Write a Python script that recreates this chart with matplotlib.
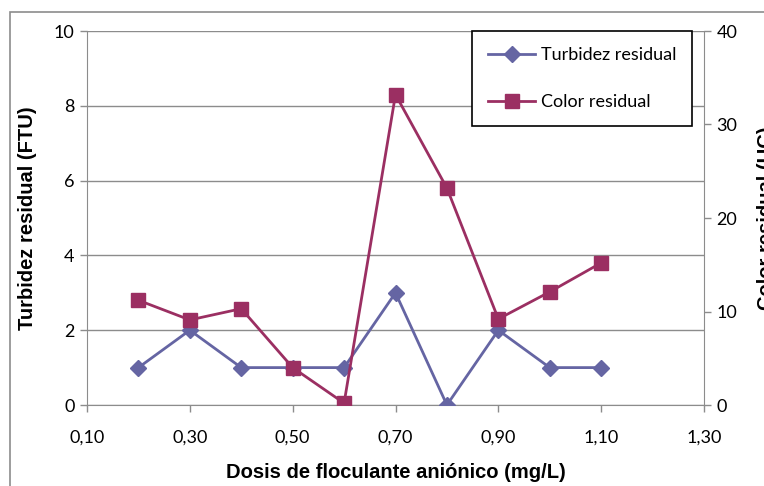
#!/usr/bin/env python3
# Turbidez y color residual frente a la dosis de floculante anionico

import matplotlib
matplotlib.use("Agg")
import matplotlib.pyplot as plt
from matplotlib.patches import Rectangle
from matplotlib.ticker import FixedLocator, FuncFormatter

dosis = [0.2, 0.3, 0.4, 0.5, 0.6, 0.7, 0.8, 0.9, 1.0, 1.1]
turbidez = [1, 2, 1, 1, 1, 3, 0, 2, 1, 1]
color_res = [11.2, 9.1, 10.3, 4.0, 0.2, 33.2, 23.2, 9.2, 12.1, 15.2]

x_ticks = [0.10, 0.30, 0.50, 0.70, 0.90, 1.10, 1.30]
y_ticks = [0, 2, 4, 6, 8, 10]
y2_ticks = [0, 10, 20, 30, 40]

c_turb = "#6565a3"
c_color = "#9b2f62"
grey = "#8c8c8c"
tick_font = "Lato"
label_font = "Liberation Sans"

fig = plt.figure(figsize=(7.64, 4.86), dpi=100)
fig.patches.append(Rectangle((10 / 764, -0.1), 2, 1.1 - 12 / 486,
                             transform=fig.transFigure, fill=False,
                             edgecolor=grey, linewidth=1.2))

ax = fig.add_axes([87 / 764, 81 / 486, 617 / 764, 374 / 486])
ax2 = ax.twinx()

ax.plot(dosis, turbidez, color=c_turb, linewidth=2, marker="D",
        markersize=8, label="Turbidez residual", zorder=3)
ax2.plot(dosis, color_res, color=c_color, linewidth=2, marker="s",
         markersize=9.5, label="Color residual", zorder=3)

ax.set_xlim(0.10, 1.30)
ax.set_ylim(0, 10)
ax2.set_ylim(0, 40)
ax.xaxis.set_major_locator(FixedLocator(x_ticks))
ax.xaxis.set_major_formatter(FuncFormatter(lambda v, p: f"{v:.2f}".replace(".", ",")))
ax.yaxis.set_major_locator(FixedLocator(y_ticks))
ax2.yaxis.set_major_locator(FixedLocator(y2_ticks))

ax.grid(axis="y", color=grey, linewidth=1)
ax.set_axisbelow(True)
for a in (ax, ax2):
    a.spines["top"].set_visible(False)
    for s in ("left", "bottom", "right"):
        a.spines[s].set_color(grey)
    a.tick_params(colors=grey, length=5, width=1, labelsize=13,
                  labelcolor="black", pad=4)
ax2.spines["left"].set_visible(False)
ax2.spines["bottom"].set_visible(False)
ax.spines["right"].set_visible(False)
for lab in ax.get_xticklabels() + ax.get_yticklabels() + ax2.get_yticklabels():
    lab.set_fontfamily(tick_font)
ax.tick_params(axis="x", pad=13)

ax.set_xlabel("Dosis de floculante aniónico (mg/L)", fontsize=14.5,
              fontweight="bold", family=label_font, labelpad=12)
ax.set_ylabel("Turbidez residual (FTU)", fontsize=14.5, fontweight="bold",
              family=label_font, labelpad=12)
ax2.set_ylabel("Color residual (UC)", fontsize=14.5, fontweight="bold",
               family=label_font, labelpad=14)

h1, l1 = ax.get_legend_handles_labels()
h2, l2 = ax2.get_legend_handles_labels()
leg = ax2.legend(h1 + h2, l1 + l2, loc="upper left",
                 bbox_to_anchor=(385 / 617, 1.0), borderaxespad=0,
                 fancybox=False, framealpha=1, edgecolor="black",
                 borderpad=0.9, labelspacing=1.7, handlelength=2.6,
                 handletextpad=0.3, prop={"family": tick_font, "size": 13})
leg.get_frame().set_linewidth(1.2)

fig.savefig("out.png", dpi=100)
